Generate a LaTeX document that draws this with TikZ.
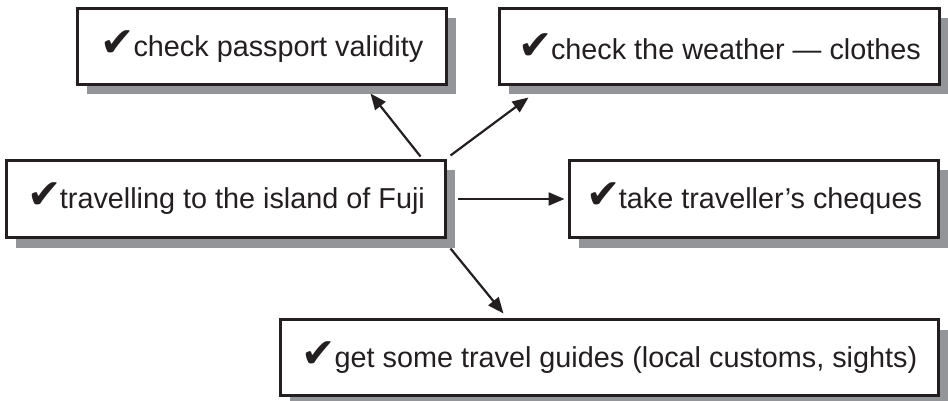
\documentclass[tikz,border=0pt]{standalone}
\usepackage{fontspec}
\setmainfont{Liberation Sans}
\newfontfamily\chkfont{DejaVu Sans}
\usetikzlibrary{arrows.meta,calc}
\definecolor{ink}{HTML}{231F20}
\definecolor{shade}{HTML}{939598}
\newcommand{\tick}{{\chkfont\fontsize{41}{41}\selectfont ✔}\hspace{-1.5pt}}
\tikzset{
  box/.style={draw=ink, line width=2.7pt, fill=white, rectangle, inner sep=0pt, outer sep=0pt,
    font=\fontsize{28.8}{34}\selectfont, text=ink,
    preaction={fill=shade, transform canvas={xshift=9pt,yshift=-10pt}}},
  arr/.style={draw=ink, line width=2.2pt, -{Triangle[length=16pt,width=13pt]}},
}
\begin{document}
\begin{tikzpicture}[x=1pt,y=-1pt]
\useasboundingbox (0,0) rectangle (948,401);
\clip (0,0) rectangle (948,401);
\node[box, minimum width=369pt, minimum height=76pt] (b1) at (262,46.5) {\tick check passport validity};
\node[box, minimum width=440pt, minimum height=76pt] (b2) at (719.5,46.5) {\tick check the weather — clothes};
\node[box, minimum width=439pt, minimum height=77pt] (b3) at (226,199) {\tick travelling to the island of Fuji};
\node[box, minimum width=369pt, minimum height=77pt] (b4) at (754,199) {\tick take traveller’s cheques};
\node[box, minimum width=658pt, minimum height=76pt] (b5) at (609.5,357.5) {\tick get some travel guides (local customs, sights)};
\draw[arr] ([xshift=-25pt,yshift=4pt]b3.north east) -- ([xshift=-76pt,yshift=-9pt]b1.south east);
\draw[arr] ([xshift=5pt,yshift=5pt]b3.north east) -- ([xshift=29pt,yshift=-13pt]b2.south west);
\draw[arr] ([xshift=12pt]b3.east) -- ([xshift=-5pt]b4.west);
\draw[arr] ([xshift=5pt,yshift=-11pt]b3.south east) -- ([xshift=223pt,yshift=6pt]b5.north west);
\end{tikzpicture}
\end{document}
